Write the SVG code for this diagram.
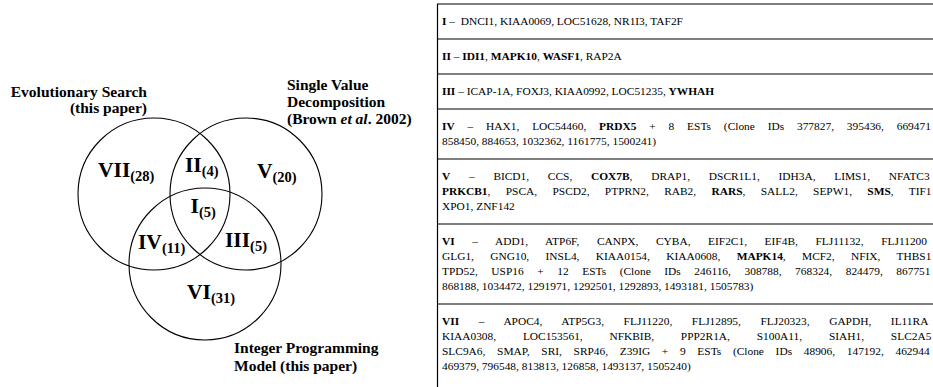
<svg xmlns="http://www.w3.org/2000/svg" width="933" height="387" viewBox="0 0 933 387">
<style>
  .circ{fill:none;stroke:#000;stroke-width:1.1}
  .set{font-family:"Liberation Serif","Times New Roman",serif;font-weight:bold;font-size:15.5px;fill:#000}
  .big{font-family:"Liberation Serif","Times New Roman",serif;font-weight:bold;font-size:21.5px;fill:#000}
  .sub{font-size:14.5px}
  .t{font-family:"Liberation Serif","Times New Roman",serif;font-size:11.4px;fill:#000}
  .b{font-weight:bold}
  .rule{stroke:#000;stroke-width:1.2}
</style>
<rect width="933" height="387" fill="#fff"/>

<g id="venn">
  <g id="set-es">
    <circle class="circ" cx="154" cy="194" r="76"/>
    <text class="set" x="147" y="97" text-anchor="end">Evolutionary Search</text>
    <text class="set" x="147" y="113" text-anchor="end">(this paper)</text>
  </g>
  <g id="set-svd">
    <circle class="circ" cx="246" cy="194" r="76"/>
    <text class="set" x="287" y="90">Single Value</text>
    <text class="set" x="287" y="107">Decomposition</text>
    <text class="set" x="287" y="124">(Brown <tspan font-style="italic">et al</tspan>. 2002)</text>
  </g>
  <g id="set-ip">
    <circle class="circ" cx="205" cy="264" r="76"/>
    <text class="set" x="234" y="353">Integer Programming</text>
    <text class="set" x="234" y="371">Model (this paper)</text>
  </g>
  <g id="region-VII"><text class="big" x="98" y="177">VII<tspan class="sub" dy="4">(28)</tspan></text></g>
  <g id="region-II"><text class="big" x="185" y="172">II<tspan class="sub" dy="4">(4)</tspan></text></g>
  <g id="region-V"><text class="big" x="257" y="178">V<tspan class="sub" dy="4">(20)</tspan></text></g>
  <g id="region-I"><text class="big" x="190.5" y="213">I<tspan class="sub" dy="4">(5)</tspan></text></g>
  <g id="region-IV"><text class="big" x="138" y="249">IV<tspan class="sub" dy="4">(11)</tspan></text></g>
  <g id="region-III"><text class="big" x="225" y="247">III<tspan class="sub" dy="4">(5)</tspan></text></g>
  <g id="region-VI"><text class="big" x="187" y="299">VI<tspan class="sub" dy="4">(31)</tspan></text></g>
</g>

<g id="table">
  <line class="rule" x1="437.5" y1="4" x2="437.5" y2="387"/>
  <line class="rule" x1="437" y1="4" x2="933" y2="4"/>
  <line class="rule" x1="437" y1="39" x2="933" y2="39"/>
  <line class="rule" x1="437" y1="74" x2="933" y2="74"/>
  <line class="rule" x1="437" y1="109" x2="933" y2="109"/>
  <line class="rule" x1="437" y1="159" x2="933" y2="159"/>
  <line class="rule" x1="437" y1="224" x2="933" y2="224"/>
  <line class="rule" x1="437" y1="304" x2="933" y2="304"/>

  <g id="row-I">
    <text class="t" x="442" y="25"><tspan class="b">I</tspan> –&#160; DNCI1, KIAA0069, LOC51628, NR1I3, TAF2F</text>
  </g>
  <g id="row-II">
    <text class="t" x="442" y="60"><tspan class="b">II</tspan> – <tspan class="b">IDI1</tspan>, <tspan class="b">MAPK10</tspan>, <tspan class="b">WASF1</tspan>, RAP2A</text>
  </g>
  <g id="row-III">
    <text class="t" x="442" y="95"><tspan class="b">III</tspan> – ICAP-1A, FOXJ3, KIAA0992, LOC51235, <tspan class="b">YWHAH</tspan></text>
  </g>
  <g id="row-IV">
    <text class="t" x="442" y="130" word-spacing="10"><tspan class="b">IV</tspan> – HAX1, LOC54460, <tspan class="b">PRDX5</tspan> + 8 ESTs (Clone IDs 377827, 395436, 669471</text>
    <text class="t" x="442" y="145">858450, 884653, 1032362, 1161775, 1500241)</text>
  </g>
  <g id="row-V">
    <text class="t" x="442" y="180" word-spacing="15.88"><tspan class="b">V</tspan> – BICD1, CCS, <tspan class="b">COX7B</tspan>, DRAP1, DSCR1L1, IDH3A, LIMS1, NFATC3</text>
    <text class="t" x="442" y="195" word-spacing="12.5"><tspan class="b">PRKCB1</tspan>, PSCA, PSCD2, PTPRN2, RAB2, <tspan class="b">RARS</tspan>, SALL2, SEPW1, <tspan class="b">SMS</tspan>, TIF1</text>
    <text class="t" x="442" y="210">XPO1, ZNF142</text>
  </g>
  <g id="row-VI">
    <text class="t" x="442" y="245" word-spacing="14.75"><tspan class="b">VI</tspan> – ADD1, ATP6F, CANPX, CYBA, EIF2C1, EIF4B, FLJ11132, FLJ11200</text>
    <text class="t" x="442" y="260" word-spacing="13.5">GLG1, GNG10, INSL4, KIAA0154, KIAA0608, <tspan class="b">MAPK14</tspan>, MCF2, NFIX, THBS1</text>
    <text class="t" x="442" y="275" word-spacing="10.74">TPD52, USP16 + 12 ESTs (Clone IDs 246116, 308788, 768324, 824479, 867751</text>
    <text class="t" x="442" y="290">868188, 1034472, 1291971, 1292501, 1292893, 1493181, 1505783)</text>
  </g>
  <g id="row-VII">
    <text class="t" x="442" y="325" word-spacing="16.76"><tspan class="b">VII</tspan> – APOC4, ATP5G3, FLJ11220, FLJ12895, FLJ20323, GAPDH, IL11RA</text>
    <text class="t" x="442" y="340" word-spacing="23.93">KIAA0308, LOC153561, NFKBIB, PPP2R1A, S100A11, SIAH1, SLC2A5</text>
    <text class="t" x="442" y="355" word-spacing="8.84">SLC9A6, SMAP, SRI, SRP46, Z39IG + 9 ESTs (Clone IDs 48906, 147192, 462944</text>
    <text class="t" x="442" y="370">469379, 796548, 813813, 126858, 1493137, 1505240)</text>
  </g>
</g>
</svg>
